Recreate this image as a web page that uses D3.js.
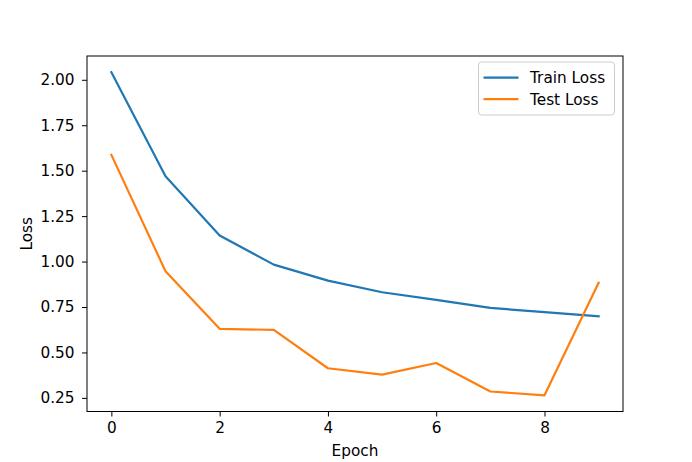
<!DOCTYPE html>
<html><head><meta charset="utf-8">
<script src="https://cdn.jsdelivr.net/npm/d3@7"></script>
<style>body{margin:0;background:#fff}svg{display:block;font-family:"DejaVu Sans",sans-serif}</style>
</head><body>
<svg id="c" width="692" height="462"></svg>
<script>
const epochs = [0,1,2,3,4,5,6,7,8,9];
const trainLoss = [2.042,1.469,1.143,0.983,0.895,0.831,0.789,0.745,0.722,0.699];
const testLoss = [1.587,0.947,0.630,0.624,0.413,0.378,0.442,0.285,0.264,0.883];
const xTicks = [0,2,4,6,8];
const yTicks = [0.25,0.50,0.75,1.00,1.25,1.50,1.75,2.00];
const seriesNames = ["Train Loss","Test Loss"];
const colors = ["#1f77b4","#ff7f0e"];

const FS = 15.3;
const L=87, R=623, T=56, B=411.5;
const svg = d3.select("#c");
const x = d3.scaleLinear().domain([-0.45,9.45]).range([L,R]);
const ymin=0.264, ymax=2.042, pad=(ymax-ymin)*0.05;
const y = d3.scaleLinear().domain([ymin-pad,ymax+pad]).range([B,T]);

const line = d3.line().x((d,i)=>x(epochs[i])).y(d=>y(d));
[trainLoss,testLoss].forEach((s,k)=>{
  svg.append("path").datum(s).attr("d",line).attr("fill","none")
    .attr("stroke",colors[k]).attr("stroke-width",2.2).attr("stroke-linejoin","round").attr("stroke-linecap","square");
});

const xa = svg.append("g").attr("transform",`translate(0,${B})`)
  .call(d3.axisBottom(x).tickValues(xTicks).tickFormat(d3.format("d")).tickSize(5).tickPadding(5.5));
const ya = svg.append("g").attr("transform",`translate(${L},0)`)
  .call(d3.axisLeft(y).tickValues(yTicks).tickFormat(d3.format(".2f")).tickSize(5).tickPadding(7.5));
[xa,ya].forEach(a=>{
  a.select(".domain").remove();
  a.selectAll("line").attr("stroke","#000").attr("stroke-width",1);
  a.selectAll("text").attr("font-size",FS).attr("fill","#000").attr("font-family","DejaVu Sans");
});
svg.append("rect").attr("x",L).attr("y",T).attr("width",R-L).attr("height",B-T)
  .attr("fill","none").attr("stroke","#000").attr("stroke-width",1);

svg.append("text").attr("x",(L+R)/2).attr("y",455.5).attr("text-anchor","middle")
  .attr("font-size",FS).text("Epoch");
svg.append("text").attr("transform",`translate(31.5,${(T+B)/2}) rotate(-90)`).attr("text-anchor","middle")
  .attr("font-size",FS).text("Loss");

const lg = svg.append("g");
lg.append("rect").attr("x",478.5).attr("y",62).attr("width",136).attr("height",53).attr("rx",3)
  .attr("fill","#fff").attr("fill-opacity",0.8).attr("stroke","#ccc").attr("stroke-width",1);
seriesNames.forEach((n,k)=>{
  const yy = 77.7 + k*21.5;
  lg.append("line").attr("x1",483.5).attr("x2",518.5).attr("y1",yy).attr("y2",yy)
    .attr("stroke",colors[k]).attr("stroke-width",2.2);
  lg.append("text").attr("x",530).attr("y",yy+5.5).attr("font-size",FS).text(n);
});
</script>
</body></html>
